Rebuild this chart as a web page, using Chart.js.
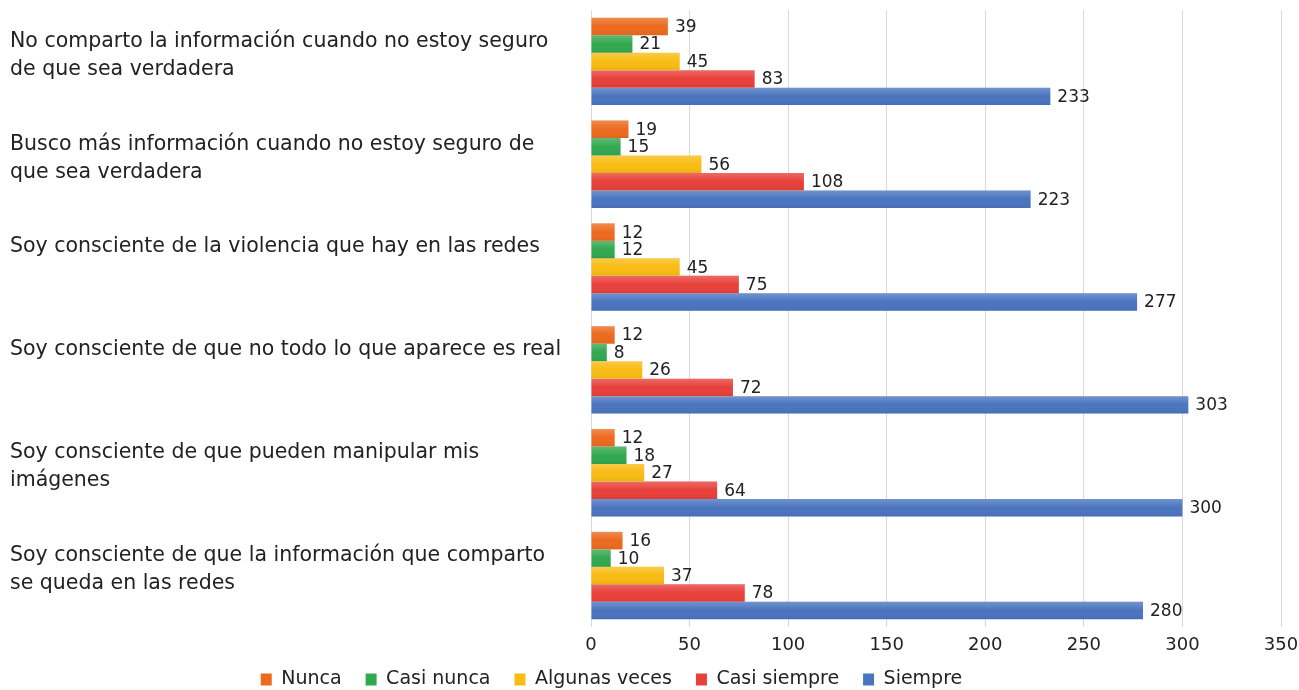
<!DOCTYPE html>
<html>
<head>
<meta charset="utf-8">
<script src="https://cdn.jsdelivr.net/npm/chart.js@4/dist/chart.umd.min.js"></script>
<style>
  html, body { margin: 0; padding: 0; background: #fff; }
  #wrap { width: 1299px; height: 690px; position: relative; }
</style>
</head>
<body>
<div id="wrap"><canvas id="chart"></canvas></div>
<script>
// Categories (label lines)
const categories = [
    ["No comparto la información cuando no estoy seguro", "de que sea verdadera"],
    ["Busco más información cuando no estoy seguro de", "que sea verdadera"],
    ["Soy consciente de la violencia que hay en las redes", ""],
    ["Soy consciente de que no todo lo que aparece es real", ""],
    ["Soy consciente de que pueden manipular mis", "imágenes"],
    ["Soy consciente de que la información que comparto", "se queda en las redes"]
];

// Series values
const nunca        = [39, 19, 12, 12, 12, 16];
const casiNunca    = [21, 15, 12, 8, 18, 10];
const algunasVeces = [45, 56, 45, 26, 27, 37];
const casiSiempre  = [83, 108, 75, 72, 64, 78];
const siempre      = [233, 223, 277, 303, 300, 280];

const seriesNames = ["Nunca", "Casi nunca", "Algunas veces", "Casi siempre", "Siempre"];
const xTicks = [0, 50, 100, 150, 200, 250, 300, 350];

const FONT = "'DejaVu Sans', sans-serif";

// value labels + light top-to-bottom shading on each bar
const barLabels = {
    id: 'barLabels',
    afterLayout(chart) {
        // legend sits a bit left of centre and tucked under the axis in the original
        const lg = chart.legend;
        if (lg) {
            lg.left -= 43; lg.right -= 43;
            lg.top -= 11; lg.bottom -= 11;
        }
    },
    afterDatasetsDraw(chart) {
        const ctx = chart.ctx;
        ctx.save();
        chart.data.datasets.forEach((ds, i) => {
            const meta = chart.getDatasetMeta(i);
            meta.data.forEach((el, j) => {
                const top = el.y - el.height / 2;
                const g = ctx.createLinearGradient(0, top, 0, top + el.height);
                g.addColorStop(0, 'rgba(255,255,255,0.22)');
                g.addColorStop(0.5, 'rgba(255,255,255,0)');
                g.addColorStop(1, 'rgba(0,0,0,0.06)');
                ctx.fillStyle = g;
                ctx.fillRect(el.base, top, el.x - el.base, el.height);

                ctx.fillStyle = '#222';
                ctx.font = '17px ' + FONT;
                ctx.textAlign = 'left';
                ctx.textBaseline = 'middle';
                ctx.fillText(ds.data[j], el.x + 7, el.y + 1);
            });
        });
        ctx.restore();
    }
};

function initChart() {
    const ctx = document.getElementById('chart').getContext('2d');
    const colors = ['#EC6A1E', '#32A84F', '#F9BC13', '#E8403A', '#4A74BF'];
    const data = [nunca, casiNunca, algunasVeces, casiSiempre, siempre];
    new Chart(ctx, {
        type: 'bar',
        data: {
            labels: categories,
            datasets: seriesNames.map((name, i) => ({
                label: name,
                data: data[i],
                backgroundColor: colors[i],
                borderWidth: 0,
                barPercentage: 1.0,
                categoryPercentage: 0.85
            }))
        },
        options: {
            indexAxis: 'y',
            responsive: true,
            maintainAspectRatio: false,
            animation: false,
            layout: { padding: { top: 10, left: 10, right: 0, bottom: -20 } },
            plugins: {
                legend: {
                    position: 'bottom',
                    labels: {
                        color: '#222',
                        font: { family: FONT, size: 19 },
                        boxWidth: 11,
                        boxHeight: 12,
                        padding: 24
                    }
                },
                tooltip: { enabled: false }
            },
            scales: {
                x: {
                    min: 0,
                    max: 350,
                    afterBuildTicks: s => { s.ticks = xTicks.map(v => ({ value: v })); },
                    afterFit: s => { s.paddingRight = 18; s.paddingLeft = 0; s.height = 30; },
                    grid: { color: '#d9d9d9', lineWidth: 1, drawTicks: false },
                    border: { display: false },
                    ticks: { color: '#222', font: { family: FONT, size: 18 }, padding: 8 }
                },
                y: {
                    grid: { display: false },
                    border: { display: false },
                    afterFit: s => { s.width = 581; s.paddingTop = 0; s.paddingBottom = 0; },
                    ticks: {
                        color: '#222',
                        crossAlign: 'far',
                        labelOffset: -6,
                        font: { family: FONT, size: 20.5, lineHeight: 1.37 }
                    }
                }
            }
        },
        plugins: [barLabels]
    });
}

window.onload = () => { initChart(); };
</script>
</body>
</html>
